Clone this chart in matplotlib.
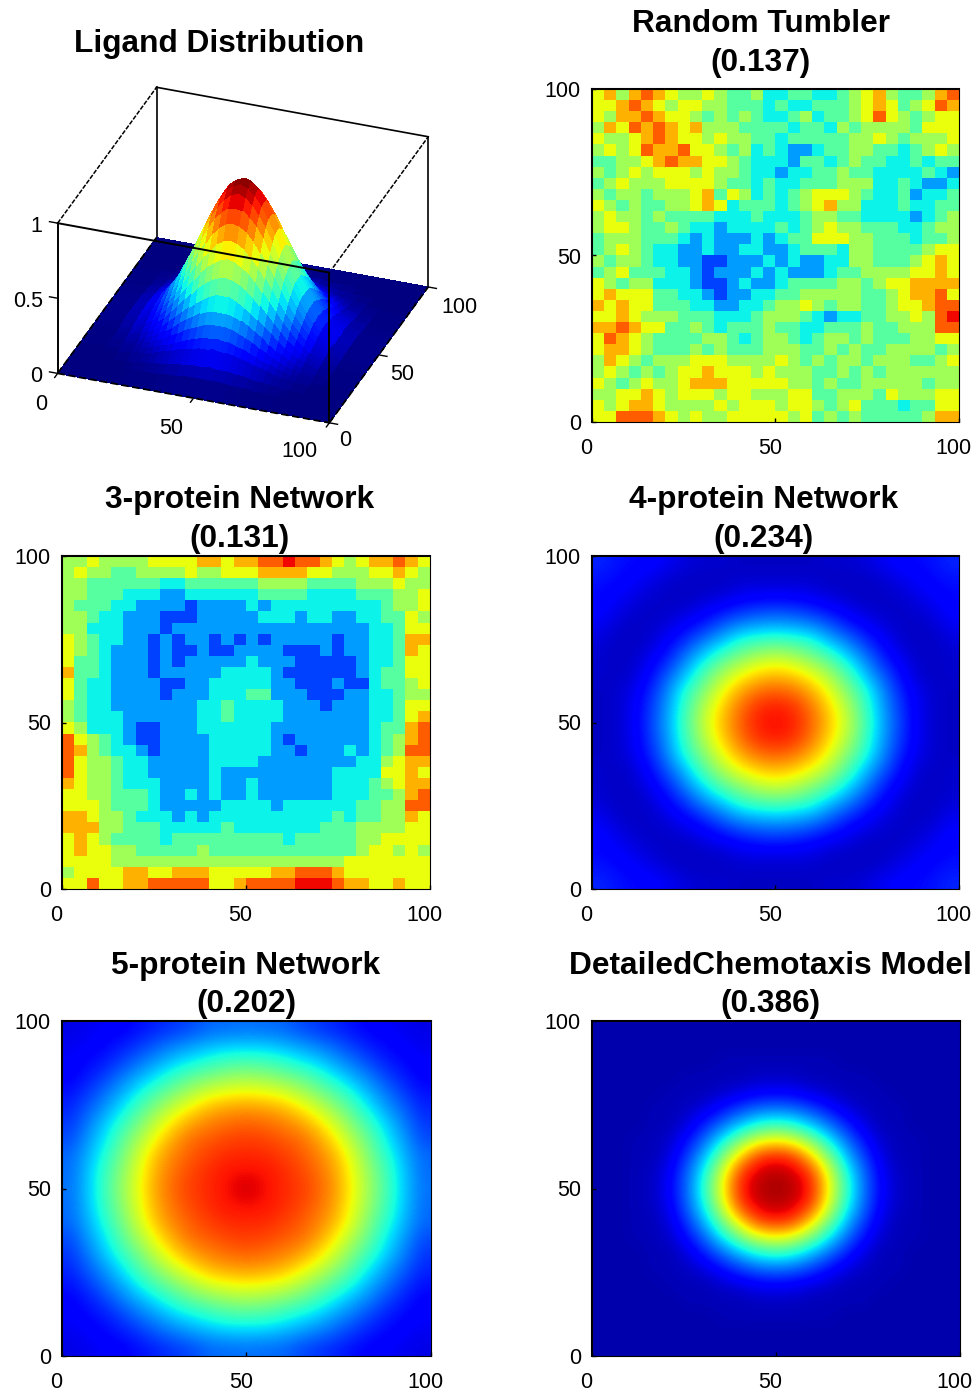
import numpy as np
import matplotlib
matplotlib.use("Agg")
import matplotlib.pyplot as plt
from matplotlib.transforms import ScaledTranslation

plt.rcParams['font.family'] = ['Liberation Sans', 'DejaVu Sans']

W, H = 978, 1389

# ligand surface, one quadrant (offset from the centre, height in %)
ligand_offsets = [0, 2.5, 5, 7.5, 10, 12.5, 15, 17.5, 20, 22.5, 25, 27.5, 30, 35, 40, 50]
ligand_quadrant = [
    [100, 99, 95, 88, 80, 71, 61, 51, 41, 32, 25, 19, 14, 7, 3, 0],
    [99, 97, 93, 87, 79, 70, 60, 50, 41, 32, 25, 18, 13, 6, 3, 0],
    [95, 93, 89, 83, 76, 67, 57, 48, 39, 31, 24, 18, 13, 6, 3, 0],
    [88, 87, 83, 78, 71, 62, 54, 45, 36, 29, 22, 16, 12, 6, 3, 0],
    [80, 79, 76, 71, 64, 57, 49, 41, 33, 26, 20, 15, 11, 5, 2, 0],
    [71, 70, 67, 62, 57, 50, 43, 36, 29, 23, 18, 13, 10, 5, 2, 0],
    [61, 60, 57, 54, 49, 43, 37, 31, 25, 20, 15, 11, 8, 4, 2, 0],
    [51, 50, 48, 45, 41, 36, 31, 26, 21, 16, 13, 9, 7, 3, 1, 0],
    [41, 41, 39, 36, 33, 29, 25, 21, 17, 13, 10, 8, 6, 3, 1, 0],
    [32, 32, 31, 29, 26, 23, 20, 16, 13, 11, 8, 6, 4, 2, 1, 0],
    [25, 25, 24, 22, 20, 18, 15, 13, 10, 8, 6, 5, 3, 2, 1, 0],
    [19, 18, 18, 16, 15, 13, 11, 9, 8, 6, 5, 3, 3, 1, 1, 0],
    [14, 13, 13, 12, 11, 10, 8, 7, 6, 4, 3, 3, 2, 1, 0, 0],
    [7, 6, 6, 6, 5, 5, 4, 3, 3, 2, 2, 1, 1, 0, 0, 0],
    [3, 3, 3, 3, 2, 2, 2, 1, 1, 1, 1, 1, 0, 0, 0, 0],
    [0, 0, 0, 0, 0, 0, 0, 0, 0, 0, 0, 0, 0, 0, 0, 0],
]

# noisy heat maps: one digit per cell, 0 = blue ... 9 = red, top row first
tumbler_rows = [
    "675787655654453344334567544578",
    "667876566554443433444567645687",
    "657787665454543345344568654566",
    "576878767555444434435455554666",
    "655678766565544344444556545556",
    "565687786654534322344554434565",
    "445567877665433324434544334344",
    "545656665655433233445443333432",
    "456555666654434334445553343223",
    "545545556746534345666543342334",
    "654544556763444345675533343344",
    "565545444433343334554433332345",
    "566544543323333434565544433455",
    "455544432322232344666554443445",
    "456543322322332234443554444566",
    "545543322112223232233554445676",
    "456444332122232322234455556676",
    "654553332112322344445545667777",
    "676664433212233445555544567786",
    "767664443322334556545544566788",
    "667655544433345554323344556589",
    "778766445434445443344454455588",
    "687654444554345543455454445566",
    "677654445454445554454544555545",
    "576545556665555654545545554456",
    "565454566766656555445454555555",
    "654565567776666655454455555455",
    "556676566656655566445554655566",
    "656776555565666566545644434466",
    "668887656556666656454544444577",
]
protein3_rows = [
    "556555566667767788988765677876",
    "565544555565566677776655566765",
    "554444443344444455554444555655",
    "554443332233333344443333444556",
    "544433222212222323333333334556",
    "554332221112222233323322334465",
    "553332221222222222222222233466",
    "654332212122121212222212233477",
    "654322212112112222111212233476",
    "644322212122222322211111233466",
    "744322212222233332111111234466",
    "643322221122333332211121134456",
    "643322221222333442221112233455",
    "543322222223343333222122233466",
    "543332222223343333222222233467",
    "653332112223333332222222234478",
    "865432112222333332122222234578",
    "875433212222333332212223234588",
    "865543322222333322222222335677",
    "865543322222322222222233336676",
    "765543332222322322222233345677",
    "665544432232322322222233344578",
    "666544432222233332333333445588",
    "776554333232333333333343445576",
    "777554443333343333333444555566",
    "676544443444444444344444556666",
    "676655444445444444444444566565",
    "666655555555555555555556666666",
    "566667766777666667788876666666",
    "668667788888667888899987766766",
]

# smooth heat maps: one quadrant in % from the centre outwards, mirrored when drawn
protein4_quadrant = [
    [90, 88, 81, 71, 60, 46, 31, 20, 11, 7, 6],
    [88, 86, 79, 69, 58, 44, 30, 19, 11, 7, 6],
    [81, 79, 73, 64, 52, 41, 28, 17, 10, 7, 6],
    [71, 69, 64, 56, 46, 33, 23, 14, 8, 6, 7],
    [60, 58, 52, 46, 36, 27, 17, 11, 7, 6, 7],
    [46, 44, 41, 33, 27, 19, 13, 8, 6, 6, 8],
    [31, 30, 28, 23, 17, 13, 9, 7, 6, 7, 10],
    [20, 19, 17, 14, 11, 8, 7, 6, 7, 9, 12],
    [11, 11, 10, 8, 7, 6, 6, 7, 9, 11, 13],
    [7, 7, 7, 6, 6, 6, 7, 9, 11, 13, 14],
    [6, 6, 6, 7, 7, 8, 10, 12, 13, 14, 16],
]
protein5_quadrant = [
    [93, 90, 87, 85, 81, 75, 65, 54, 43, 32, 24],
    [90, 89, 87, 84, 80, 74, 64, 53, 42, 32, 23],
    [87, 87, 85, 82, 78, 72, 62, 50, 40, 30, 23],
    [85, 84, 82, 80, 75, 67, 57, 47, 36, 28, 20],
    [81, 80, 78, 75, 69, 61, 51, 42, 33, 25, 18],
    [75, 74, 72, 67, 61, 53, 45, 36, 28, 22, 16],
    [65, 64, 62, 57, 51, 45, 38, 30, 24, 18, 14],
    [54, 53, 50, 47, 42, 36, 30, 25, 19, 15, 12],
    [43, 42, 40, 36, 33, 28, 24, 19, 15, 13, 11],
    [32, 32, 30, 28, 25, 22, 18, 15, 13, 11, 10],
    [24, 23, 23, 20, 18, 16, 14, 12, 11, 10, 9],
]
detailed_quadrant = [
    [97, 95, 88, 66, 42, 24, 12, 6, 5, 4, 4],
    [95, 93, 85, 62, 39, 23, 11, 6, 5, 4, 4],
    [88, 85, 70, 51, 32, 19, 9, 5, 5, 4, 4],
    [66, 62, 51, 37, 24, 14, 7, 5, 5, 4, 4],
    [42, 39, 32, 24, 16, 9, 5, 5, 4, 4, 4],
    [24, 23, 19, 14, 9, 6, 5, 5, 4, 4, 4],
    [12, 11, 9, 7, 5, 5, 5, 4, 4, 4, 4],
    [6, 6, 5, 5, 5, 5, 4, 4, 4, 4, 4],
    [5, 5, 5, 5, 4, 4, 4, 4, 4, 4, 4],
    [4, 4, 4, 4, 4, 4, 4, 4, 4, 4, 4],
    [4, 4, 4, 4, 4, 4, 4, 4, 4, 4, 4],
]

ticks = [0, 50, 100]


def digits(rows):
    d = np.array([[int(c) for c in r] for r in rows], dtype=float)
    return 0.1 + 0.8 * d / 9


def mirror(quadrant):
    q = np.array(quadrant, dtype=float) / 100
    top = np.hstack([q[:, :0:-1], q])
    return np.vstack([top[:0:-1], top])


def title(text, sub, cx, y1, y2):
    fig.text(cx / W, 1 - (y1 + 2) / H, text, ha='center', va='center', fontsize=22.8, fontweight='bold')
    if sub:
        fig.text(cx / W, 1 - (y2 + 2) / H, sub, ha='center', va='center', fontsize=22.8, fontweight='bold')


def heat(values, x0, x1, y0, y1, interp):
    ax = fig.add_axes([x0 / W, 1 - y1 / H, (x1 - x0) / W, (y1 - y0) / H])
    ax.imshow(values, cmap='jet', vmin=0, vmax=1, extent=[0, 100, 0, 100],
              origin='upper', aspect='auto', interpolation=interp)
    ax.set_xticks(ticks)
    ax.set_yticks(ticks)
    ax.tick_params(direction='in', length=3, width=1, labelsize=15.5)
    ax.tick_params(axis='x', pad=11.5)
    ax.tick_params(axis='y', pad=8)
    shift = ScaledTranslation(-4 / 72, 0, fig.dpi_scale_trans)
    for lab in ax.get_xticklabels():
        lab.set_transform(lab.get_transform() + shift)
    for side in ['left', 'top']:
        ax.spines[side].set_linewidth(1.5)
    for side in ['right', 'bottom']:
        ax.spines[side].set_linewidth(0.8)
    return ax


fig = plt.figure(figsize=(W / 100, H / 100), dpi=100)

title('Ligand Distribution', None, 219, 42, 0)
title('Random Tumbler', '(0.137)', 761, 22, 61)
title('3-protein Network', '(0.131)', 240, 498, 537)
title('4-protein Network', '(0.234)', 764, 498, 537)
title('5-protein Network', '(0.202)', 246, 964, 1002)
title('DetailedChemotaxis Model', '(0.386)', 770, 964, 1002)

heat(digits(tumbler_rows), 592, 959, 89, 422, 'nearest')
heat(digits(protein3_rows), 62, 430, 556, 889, 'nearest')
heat(mirror(protein4_quadrant), 592, 959, 556, 889, 'bicubic')
heat(mirror(protein5_quadrant), 62, 431, 1021, 1356, 'bicubic')
heat(mirror(detailed_quadrant), 592, 960, 1021, 1356, 'bicubic')

# 3d panel
ax = fig.add_axes([-8 / W, 1 - 481 / H, 490 / W, 440 / H], projection='3d',
                  proj_type='ortho', computed_zorder=False)
ax.view_init(elev=30, azim=-70)
ax.set_box_aspect((1, 1, 0.6), zoom=0.98)
ax.set_xlim(0, 100)
ax.set_ylim(0, 100)
ax.set_zlim(0, 1)
ax.set_axis_off()

off = np.array(ligand_offsets)
gx = np.concatenate([50 - off[:0:-1], 50 + off])
Z = mirror(ligand_quadrant)
X, Y = np.meshgrid(gx, gx)
# each facet takes the mean height of its corners for its colour
Zc = Z.copy()
Zc[:-1, :-1] = (Z[:-1, :-1] + Z[1:, :-1] + Z[:-1, 1:] + Z[1:, 1:]) / 4
ax.plot_surface(X, Y, Z, facecolors=plt.cm.jet(Zc), rstride=1, cstride=1, shade=False,
                linewidth=0, antialiased=False, zorder=2)

back = [([0, 0], [100, 100], [0, 1]), ([0, 100], [100, 100], [1, 1]),
        ([100, 100], [100, 100], [1, 0])]
side = [([0, 0], [0, 100], [1, 1]), ([100, 100], [0, 100], [1, 1])]
front = [([0, 0], [0, 0], [0, 1]), ([0, 100], [0, 0], [1, 1]), ([100, 100], [0, 0], [0, 1])]
base = [([0, 100], [0, 0], [0, 0]), ([100, 100], [0, 100], [0, 0]), ([0, 0], [0, 100], [0, 0])]
for lx, ly, lz in back:
    ax.plot(lx, ly, lz, color='k', lw=1.2, zorder=1)
for lx, ly, lz in side:
    ax.plot(lx, ly, lz, color='k', lw=1.1, ls=(0, (3, 1)), zorder=1)
for lx, ly, lz in front:
    ax.plot(lx, ly, lz, color='k', lw=1.4, zorder=3)
for lx, ly, lz in base:
    ax.plot(lx, ly, lz, color='k', lw=1.3, ls=(0, (4, 2)), zorder=3)

# label places along each edge, in data units
x_label_at = [0, 48, 95]
y_label_at = [106, 108.7, 111.3]

for t in [0, 0.5, 1]:
    ax.plot([0, -3], [0, 0], [t, t], color='k', lw=1, zorder=3)
    ax.text(-5.5, 0, t - 0.04, f'{t:g}', ha='right', va='center', fontsize=15.5, zorder=4)
for t, lx, ly in zip(ticks, x_label_at, y_label_at):
    ax.plot([t, t], [0, -3], [0, 0], color='k', lw=1, zorder=3)
    ax.text(lx, -17, -0.055, str(t), ha='center', va='center', fontsize=15.5, zorder=4)
    ax.plot([100, 103], [t, t], [0, 0], color='k', lw=1, zorder=3)
    ax.text(ly, t, -0.1, str(t), ha='center', va='center', fontsize=15.5, zorder=4)

fig.savefig('out.png', dpi=100)
